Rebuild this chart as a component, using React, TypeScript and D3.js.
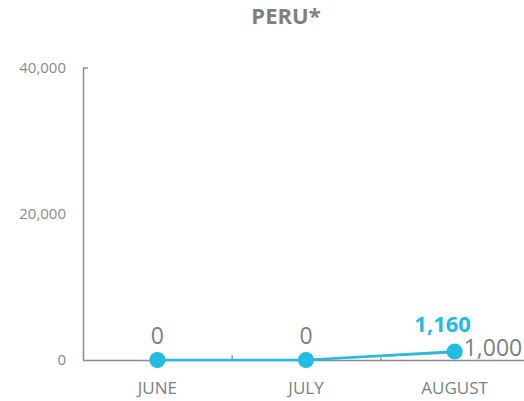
import React, { useEffect, useRef } from "react";
import * as d3 from "d3";

const months = ["JUNE", "JULY", "AUGUST"];
const actual = [0, 0, 1160];
const target = [0, 0, 1000];
const yTicks = [0, 20000, 40000];

const WIDTH = 524;
const HEIGHT = 401;
const BLUE = "#22bbe2";

const App: React.FC = () => {
  const ref = useRef<SVGSVGElement>(null);

  useEffect(() => {
    const container = ref.current;
    if (!container) return;
    const svg = d3.select(container);
    svg.selectAll("*").remove();

    const font = "'Open Sans', 'Noto Sans', sans-serif";

    const x = d3.scaleBand().domain(months).range([83, 529]).padding(0);
    const y = d3.scaleLinear().domain([0, 40000]).range([360, 68]);
    const cx = (m: string) => (x(m) ?? 0) + x.bandwidth() / 2;

    // title
    svg
      .append("text")
      .attr("x", 286)
      .attr("y", 24)
      .attr("text-anchor", "middle")
      .attr("font-family", font)
      .attr("font-weight", "bold")
      .attr("font-size", 22)
      .attr("fill", "#7f7f7f")
      .text("PERU*");

    // y axis
    svg
      .append("line")
      .attr("x1", 83.5)
      .attr("x2", 83.5)
      .attr("y1", y(40000))
      .attr("y2", y(0))
      .attr("stroke", "#8c8c8c")
      .attr("stroke-width", 1.5);
    svg
      .append("line")
      .attr("x1", 83)
      .attr("x2", 88)
      .attr("y1", y(40000))
      .attr("y2", y(40000))
      .attr("stroke", "#8c8c8c")
      .attr("stroke-width", 1.5);

    svg
      .selectAll(".ytick")
      .data(yTicks)
      .enter()
      .append("text")
      .attr("x", 66)
      .attr("y", (d) => y(d) + 5)
      .attr("text-anchor", "end")
      .attr("font-family", font)
      .attr("font-size", 15)
      .attr("fill", "#8a8a8a")
      .text((d) => d3.format(",")(d));

    // x axis
    svg
      .append("line")
      .attr("x1", 83)
      .attr("x2", WIDTH)
      .attr("y1", y(0) + 0.5)
      .attr("y2", y(0) + 0.5)
      .attr("stroke", "#8c8c8c")
      .attr("stroke-width", 1.5);

    svg
      .selectAll(".xtick")
      .data(months.slice(1))
      .enter()
      .append("line")
      .attr("x1", (d) => (x(d) ?? 0) + 0.5)
      .attr("x2", (d) => (x(d) ?? 0) + 0.5)
      .attr("y1", y(0) - 5)
      .attr("y2", y(0))
      .attr("stroke", "#8c8c8c")
      .attr("stroke-width", 1.2);

    svg
      .selectAll(".xlabel")
      .data(months)
      .enter()
      .append("text")
      .attr("x", (d) => cx(d))
      .attr("y", 394)
      .attr("text-anchor", "middle")
      .attr("font-family", font)
      .attr("font-size", 17)
      .attr("fill", "#7f7f7f")
      .text((d) => d);

    const line = d3
      .line<number>()
      .x((_, i) => cx(months[i]))
      .y((d) => y(d));

    // target series (grey)
    svg
      .append("path")
      .attr("d", line(target) ?? "")
      .attr("fill", "none")
      .attr("stroke", "#a6a6a6")
      .attr("stroke-width", 1.5);

    // actual series (blue)
    svg
      .append("path")
      .attr("d", line(actual) ?? "")
      .attr("fill", "none")
      .attr("stroke", BLUE)
      .attr("stroke-width", 2.5);

    svg
      .selectAll(".dot")
      .data(actual)
      .enter()
      .append("circle")
      .attr("cx", (_, i) => cx(months[i]))
      .attr("cy", (d) => y(d))
      .attr("r", 8)
      .attr("fill", BLUE);

    // target labels
    svg
      .selectAll(".tlabel")
      .data(target)
      .enter()
      .append("text")
      .attr("x", (d, i) => (i === months.length - 1 ? cx(months[i]) + 9 : cx(months[i])))
      .attr("y", (d, i) => (i === months.length - 1 ? y(d) + 3 : y(d) - 16))
      .attr("text-anchor", (d, i) => (i === months.length - 1 ? "start" : "middle"))
      .attr("font-family", font)
      .attr("font-size", 23)
      .attr("fill", "#7f7f7f")
      .text((d) => d3.format(",")(d));

    // actual label on last point
    const last = actual.length - 1;
    svg
      .append("text")
      .attr("x", cx(months[last]) - 12)
      .attr("y", y(actual[last]) - 20)
      .attr("text-anchor", "middle")
      .attr("font-family", font)
      .attr("font-weight", "bold")
      .attr("font-size", 22)
      .attr("fill", BLUE)
      .text(d3.format(",")(actual[last]));
  }, [ref]);

  return (
    <svg
      ref={ref}
      width={WIDTH}
      height={HEIGHT}
      style={{ position: "absolute", left: 0, top: 0 }}
    />
  );
};

export default App;
